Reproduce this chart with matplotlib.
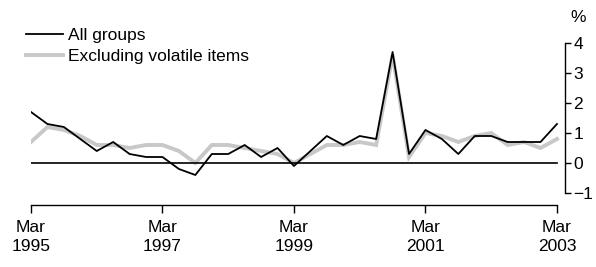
import matplotlib
matplotlib.use("Agg")
import matplotlib.pyplot as plt
import numpy as np

plt.rcParams['font.family'] = ['Liberation Sans', 'DejaVu Sans']

tick_labels = ["Mar\n1995", "Mar\n1997", "Mar\n1999", "Mar\n2001", "Mar\n2003"]
all_groups = [1.7, 1.3, 1.2, 0.8, 0.4, 0.7, 0.3, 0.2,
              0.2, -0.2, -0.4, 0.3, 0.3, 0.6, 0.2, 0.5,
              -0.1, 0.4, 0.9, 0.6, 0.9, 0.8, 3.7, 0.3,
              1.1, 0.8, 0.3, 0.9, 0.9, 0.7, 0.7, 0.7,
              1.3]
excl_volatile = [0.7, 1.2, 1.1, 0.9, 0.6, 0.6, 0.5, 0.6,
                 0.6, 0.4, 0.0, 0.6, 0.6, 0.5, 0.4, 0.3,
                 0.0, 0.3, 0.6, 0.6, 0.7, 0.6, 3.6, 0.2,
                 1.0, 0.9, 0.7, 0.9, 1.0, 0.6, 0.7, 0.5,
                 0.8]
y_ticks = [-1, 0, 1, 2, 3, 4]
y_tick_labels = ["\u22121", "0", "1", "2", "3", "4"]

W, H = 596, 267
fig = plt.figure(figsize=(W / 100, H / 100), dpi=100)
left, right, top, bottom = 31, 565, 43, 193
ax = fig.add_axes([left / W, 1 - bottom / H, (right - left) / W, (bottom - top) / H])

x = np.arange(len(all_groups))
ax.plot(x, excl_volatile, color='#c8c8c8', lw=2.8, solid_joinstyle='miter', label='Excluding volatile items')
ax.plot(x, all_groups, color='black', lw=1.3, label='All groups')
ax.plot([0, len(x) - 1], [0, 0], color='black', lw=1.2)

ax.set_xlim(0, 32.49)
ax.set_ylim(-1, 4)

for s in ['top', 'left']:
    ax.spines[s].set_visible(False)
ax.spines['right'].set_linewidth(1.0)
ax.spines['bottom'].set_linewidth(1.0)
ax.spines['bottom'].set_position(('outward', 8.6))
ax.spines['bottom'].set_bounds(0, 32)

ax.yaxis.tick_right()
ax.set_yticks(y_ticks)
ax.set_yticklabels(y_tick_labels)
ax.set_xticks(np.arange(0, 33, 8))
ax.set_xticklabels(tick_labels, linespacing=1.3)
ax.tick_params(axis='y', direction='out', length=4, width=1.0, pad=2, labelsize=12.5)
ax.tick_params(axis='x', direction='out', length=6, width=1.0, pad=5, labelsize=12.5)

fig.text(578 / W, 1 - 18 / H, '%', ha='center', va='center', fontsize=12.5)

h = ax.get_legend_handles_labels()
handles = [h[0][1], h[0][0]]
labels = [h[1][1], h[1][0]]
ax.legend(handles, labels, loc='upper left', bbox_to_anchor=(26 / W, 1 - 28 / H),
          bbox_transform=fig.transFigure, frameon=False, fontsize=12.5,
          handlelength=2.13, handletextpad=0.3, labelspacing=0.32, borderpad=0, borderaxespad=0)

fig.savefig('out.png', dpi=100)
